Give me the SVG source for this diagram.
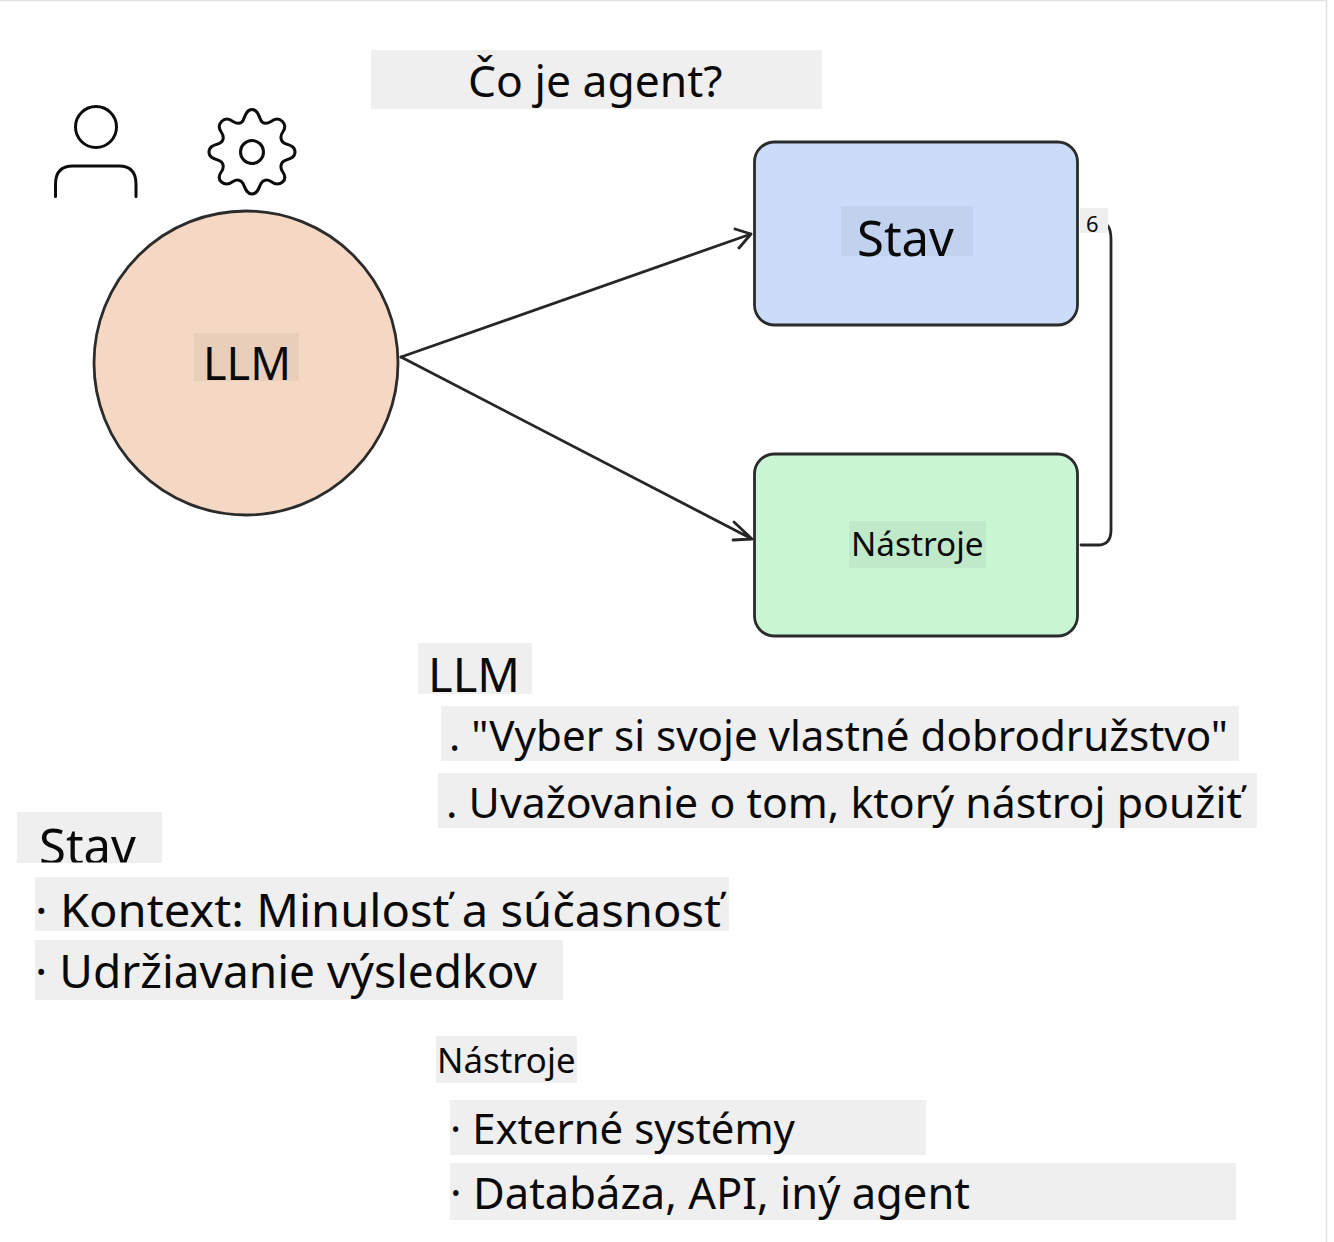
<svg xmlns="http://www.w3.org/2000/svg" width="1334" height="1242" viewBox="0 0 1334 1242">
<style>
text{font-family:"Noto Sans","Open Sans",sans-serif;fill:#0a0a0a}
.bg{fill:#efefef}
.s{fill:none;stroke:#262626;stroke-width:2.8;stroke-linecap:round;stroke-linejoin:round}
.i{fill:none;stroke:#0d0d0d;stroke-width:3;stroke-linecap:round}
.b{stroke:#2b2b2b;stroke-width:2.800}
</style>
<defs><clipPath id="c"><rect x="0" y="800" width="400" height="62.500"/></clipPath></defs>
<rect width="1334" height="1242" fill="#fff"/>
<path d="M0 .5H1326.500V1242" fill="none" stroke="#e2e2e6" stroke-width="1.500"/>

<g id="title"><rect class="bg" x="371" y="50" width="451" height="59"/><text x="468" y="97" font-size="44.400">Čo je agent?</text></g>

<g id="user"><circle class="i" cx="96" cy="127" r="20.500"/><path class="i" d="M55.500 196.500V184Q55.500 166 73 166H119Q136 166 136 184V196.500"/></g>
<g id="gear"><circle class="i" cx="252" cy="152" r="11.500"/>
<path class="i" d="M252 109.500C258 109.500 259 117 261 120.500C263 124 267 124 271 121.500C275 118.500 279 118 282.500 121.500C286 125 285 129 282.500 132.500C280 136 280.500 141 284 143C287 145 295 145 295 152C295 159 287 159 284 161C280.500 163 280 168 282.500 171.500C285 175 286 179 282.500 182C279 185 275 184.500 271 181.500C267 179 263 180 261 183.500C259 187 258 194 252 194C246 194 245 187 243 183.500C241 180 237 179 233 181.500C229 184.500 225 185 221.500 182C218 179 219 175 221.500 171.500C224 168 224 163 220 161C217 159 209 159 209 152C209 145 217 145 220 143C224 141 224 136 221.500 132.500C219 129 218 125 221.500 121.500C225 118 229 118.500 233 121.500C237 124 241 124 243 120.500C245 117 246 109.500 252 109.500Z"/></g>

<g id="llm"><circle class="b" cx="246" cy="363" r="152" fill="#f4d8c3"/><rect x="194" y="333" width="105" height="48" fill="#e9cfba"/><text x="203" y="380" font-size="45">LLM</text></g>
<g id="stav"><rect class="b" x="754.500" y="142" width="323" height="183" rx="20" fill="#cbdcfa"/><rect x="841" y="206" width="132" height="50" fill="#c0d2ed"/><text x="857" y="256" font-size="49">Stav</text></g>
<g id="nastroje"><rect class="b" x="754.500" y="454" width="323" height="182" rx="20" fill="#c9f6d3"/><rect x="849" y="521" width="137" height="47" fill="#bfe9c9"/><text x="851" y="556" font-size="33.300">Nástroje</text></g>

<g id="connectors">
<path class="s" d="M401 357L751 234M735 229L751 234L739 248"/>
<path class="s" d="M401 357L752 539M734 522L752 539L733 540"/>
<path class="s" d="M1081 545H1098Q1111 545 1111 530V240Q1111 230 1108 226"/>
</g>
<g id="edge-label"><rect class="bg" x="1080" y="208" width="28" height="25"/><text x="1086" y="232" font-size="22">6</text></g>

<g id="llm-notes">
<rect class="bg" x="418" y="643" width="114" height="51"/><text x="428" y="692" font-size="47" textLength="92" lengthAdjust="spacingAndGlyphs">LLM</text>
<rect class="bg" x="441" y="706" width="798" height="55"/><text x="449" y="751" font-size="42" textLength="779" lengthAdjust="spacingAndGlyphs">. "Vyber si svoje vlastné dobrodružstvo"</text>
<rect class="bg" x="438" y="773" width="819" height="55"/><text x="446" y="818" font-size="42" textLength="796" lengthAdjust="spacingAndGlyphs">. Uvažovanie o tom, ktorý nástroj použiť</text>
</g>
<g id="stav-notes">
<rect class="bg" x="17" y="812" width="145" height="51"/><text x="39" y="864" font-size="49" clip-path="url(#c)">Stav</text>
<rect class="bg" x="35" y="877" width="694" height="54"/><text x="35" y="927" font-size="46" textLength="686" lengthAdjust="spacingAndGlyphs">· Kontext: Minulosť a súčasnosť</text>
<rect class="bg" x="35" y="940" width="528" height="60"/><text x="35" y="988" font-size="46" textLength="502" lengthAdjust="spacingAndGlyphs">· Udržiavanie výsledkov</text>
</g>
<g id="nastroje-notes">
<rect class="bg" x="436" y="1036" width="141" height="47"/><text x="437" y="1073" font-size="34.800">Nástroje</text>
<rect class="bg" x="450" y="1100" width="476" height="55"/><text x="450" y="1144" font-size="42" textLength="345" lengthAdjust="spacingAndGlyphs">· Externé systémy</text>
<rect class="bg" x="450" y="1163" width="786" height="57"/><text x="450" y="1209" font-size="43" textLength="520" lengthAdjust="spacingAndGlyphs">· Databáza, API, iný agent</text>
</g>
</svg>
